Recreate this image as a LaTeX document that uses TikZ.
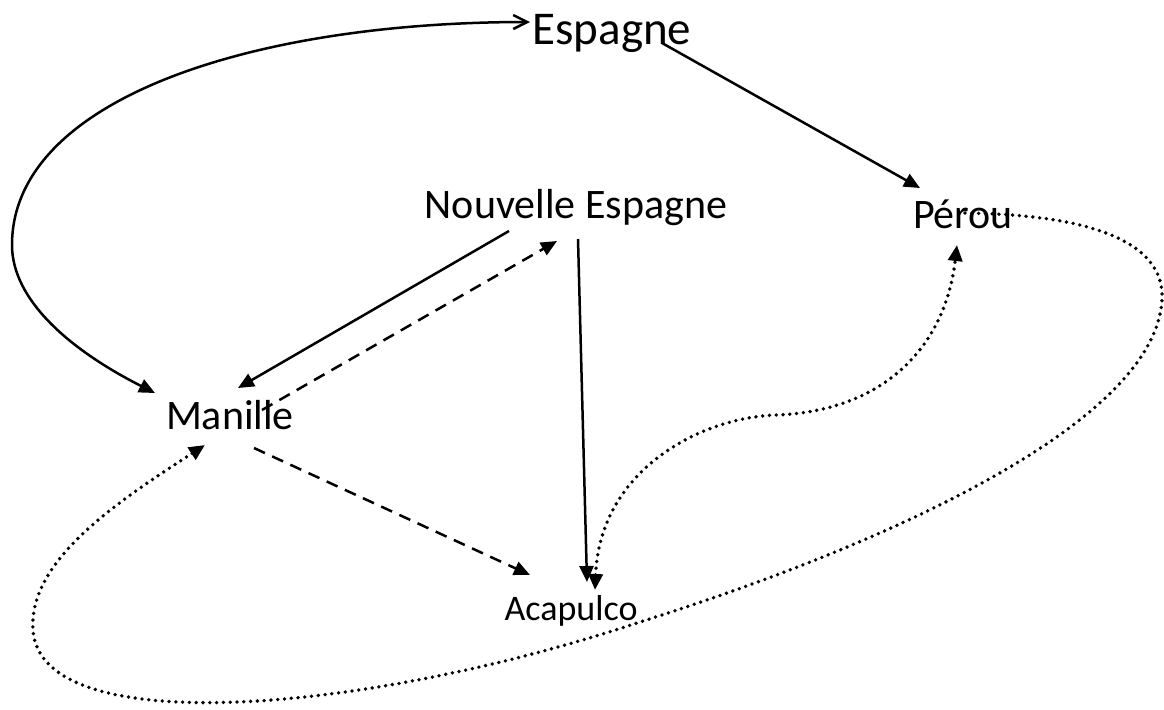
\documentclass[tikz,border=0pt]{standalone}
\usepackage{fontspec}
\setmainfont{Carlito}
\usetikzlibrary{arrows.meta,calc}

\tikzset{
	place/.style={inner sep=0pt, anchor=base, font=\fontsize{21pt}{25pt}\selectfont},
	road/.style={line width=1.25pt, -{Triangle[length=8pt,width=7pt]}},
	sea/.style={road, dash pattern=on 6pt off 4pt},
	trail/.style={line width=1.9pt, line cap=round, dash pattern=on 0pt off 3.4pt},
}

\begin{document}
\begin{tikzpicture}[x=0.5pt,y=-0.5pt]
	\useasboundingbox (0,0) rectangle (1164,709);
	\node[place, font=\fontsize{23.5pt}{28pt}\selectfont] (esp) at (612,44) {Espagne};
	\node[place] (ne) at (576,218) {Nouvelle Espagne};
	\node[place] (per) at (963,228) {Pérou};
	\node[place] (man) at (230,429) {Manille};
	\node[place, font=\fontsize{18pt}{22pt}\selectfont] (aca) at (571,620) {Acapulco};
	\draw[line width=1.25pt, {Triangle[length=8pt,width=7pt]}-{Straight Barb[length=7pt,width=7pt]}]
	($(man.base)+(-75,-36)$) .. controls (70,350) and (12,300) .. (12,245)
	.. controls (12,100) and (250,22) .. ($(esp.base)+(-82,-22)$);
	\draw[road] ($(esp.base)+(50,-1)$) -- ($(per.base)+(-43,-40)$);
	\draw[road] ($(ne.base)+(-67,13)$) -- ($(man.base)+(8,-41)$);
	\draw[sea] ($(man.base)+(32,-19)$) -- ($(ne.base)+(-19,23)$);
	\draw[road] ($(ne.base)+(2,21)$) -- ($(aca.base)+(16,-38)$);
	\draw[sea] ($(man.base)+(24,19)$) -- ($(aca.base)+(-41,-45)$);
	\draw[trail, {Triangle[length=8pt,width=7pt]}-{Triangle[length=8pt,width=7pt]}]
	($(aca.base)+(24,-30)$) .. controls (600,470) and (700,418) .. (775,415)
	.. controls (880,412) and (945,350) .. ($(per.base)+(-6,17)$);
	\draw[trail, -{Triangle[length=8pt,width=7pt]}]
	($(per.base)+(2,-15)$) .. controls (1110,215) and (1165,250) .. (1162,300)
	.. controls (1155,420) and (900,540) .. (640,622)
	.. controls (360,715) and (40,740) .. (33,630)
	.. controls (28,560) and (120,500) .. ($(man.base)+(-25,16)$);
\end{tikzpicture}
\end{document}
